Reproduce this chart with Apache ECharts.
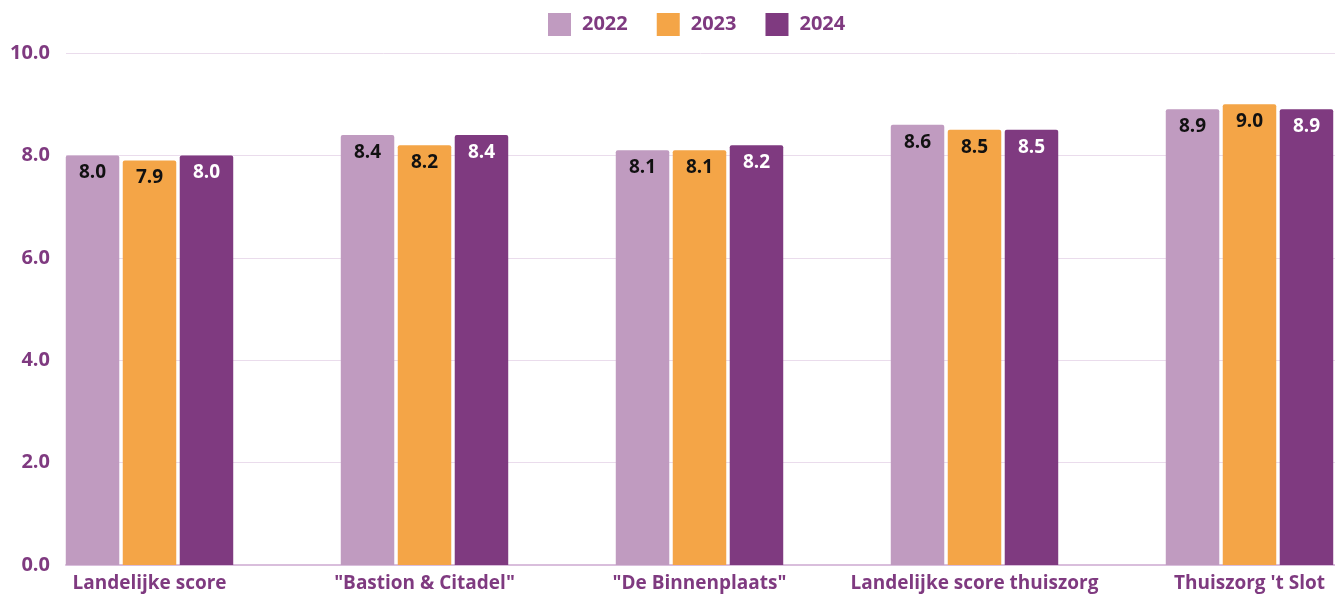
<!DOCTYPE html>
<html><head><meta charset="utf-8">
<script src="https://cdn.jsdelivr.net/npm/echarts@6/dist/echarts.min.js"></script>
<style>html,body{margin:0;padding:0;background:#fff;overflow:hidden}#c{width:1387px;height:594px}</style>
</head><body><div id="c"></div>
<script>
const categories = ['Landelijke score', '"Bastion & Citadel"', '"De Binnenplaats"', 'Landelijke score thuiszorg', "Thuiszorg 't Slot"];
const years = ['2022', '2023', '2024'];
const values2022 = [8.0, 8.4, 8.1, 8.6, 8.9];
const values2023 = [7.9, 8.2, 8.1, 8.5, 9.0];
const values2024 = [8.0, 8.4, 8.2, 8.5, 8.9];
const yTicks = { min: 0, max: 10, interval: 2 };

const colors = ['#C09BC0', '#F4A547', '#7F3A80'];
const labelColors = ['#111', '#111', '#fff'];
const purple = '#7F3A80';
const font = 'Open Sans';
const seriesValues = [values2022, values2023, values2024];

const chart = echarts.init(document.getElementById('c'));
chart.setOption({
  animation: false,
  textStyle: { fontFamily: font },
  legend: {
    left: 548, top: 13, padding: 0,
    itemWidth: 23, itemHeight: 23, itemGap: 29,
    icon: 'rect',
    data: years,
    textStyle: { color: purple, fontWeight: 'bold', fontSize: 20, fontFamily: font, padding: [0, 0, 0, 6] }
  },
  grid: [
    { left: 66, right: 52, top: 53, bottom: 29 },
    { left: 12, right: 0, top: 53, bottom: 29 }
  ],
  xAxis: [
    { type: 'category', gridIndex: 0, data: categories,
      axisLine: { lineStyle: { color: '#D9BEDC', width: 2 } },
      axisTick: { show: false }, axisLabel: { show: false } },
    { type: 'category', gridIndex: 1, data: categories,
      axisLine: { show: false }, axisTick: { show: false },
      axisLabel: { color: purple, fontWeight: 'bold', fontSize: 19, fontFamily: font, margin: 9, interval: 0 } }
  ],
  yAxis: [
    { type: 'value', gridIndex: 0, min: yTicks.min, max: yTicks.max, interval: yTicks.interval,
      axisLine: { show: false }, axisTick: { show: false },
      splitLine: { lineStyle: { color: '#EADCEC', width: 1 } },
      axisLabel: { color: purple, fontWeight: 'bold', fontSize: 20, fontFamily: font, margin: 16,
        formatter: v => v.toFixed(1) } },
    { type: 'value', gridIndex: 1, min: yTicks.min, max: yTicks.max, interval: yTicks.interval,
      show: false }
  ],
  series: years.map((y, i) => ({
    name: y, type: 'bar', xAxisIndex: 1, yAxisIndex: 1,
    data: seriesValues[i],
    barWidth: 53.5, barGap: '6.5%',
    itemStyle: { color: colors[i], borderRadius: [2, 2, 0, 0] },
    label: { show: true, position: 'insideTop', distance: 8, color: labelColors[i],
      fontWeight: 'bold', fontSize: 19, fontFamily: font, formatter: p => p.value.toFixed(1) }
  }))
});
</script></body></html>
